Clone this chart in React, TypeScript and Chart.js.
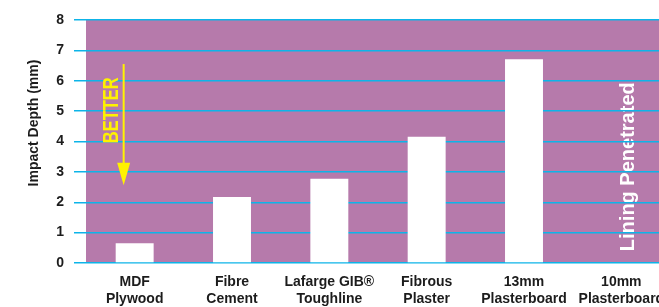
import React, { useEffect, useRef } from "react";
import { Chart, registerables } from "chart.js";

Chart.register(...registerables);

// ---- data ----
const categories: string[][] = [
  ["MDF", "Plywood"],
  ["Fibre", "Cement"],
  ["Lafarge GIB®", "Toughline"],
  ["Fibrous", "Plaster"],
  ["13mm", "Plasterboard"],
  ["10mm", "Plasterboard"],
];
const impactDepth: (number | null)[] = [0.65, 2.17, 2.77, 4.16, 6.71, null];
const yMin = 0;
const yMax = 8;
const yStep = 1;
const yTitle = "Impact Depth (mm)";
const betterLabel = "BETTER";
const penetratedLabel = "Lining Penetrated";

// ---- styles ----
const PURPLE = "#b67aab";
const CYAN = "#0db4e8";
const YELLOW = "#fff200";
const TEXT = "#1c1c1c";
const FONT = "'Liberation Sans', Arial, sans-serif";

const decorPlugin = {
  id: "decor",
  beforeDraw(chart: any) {
    const { ctx, chartArea, scales } = chart;
    ctx.save();
    ctx.fillStyle = PURPLE;
    ctx.fillRect(chartArea.left, chartArea.top, chartArea.right - chartArea.left, chartArea.bottom - chartArea.top);
    // "Lining Penetrated" label on the last category
    const x = scales.x.getPixelForValue(5) + 7;
    const y = scales.y.getPixelForValue(3.17);
    ctx.translate(x, y);
    ctx.rotate(-Math.PI / 2);
    ctx.fillStyle = "#ffffff";
    ctx.font = `bold 20px ${FONT}`;
    ctx.textAlign = "center";
    ctx.textBaseline = "middle";
    ctx.fillText(penetratedLabel, 0, 0);
    ctx.restore();
  },
  afterDatasetsDraw(chart: any) {
    const { ctx, scales } = chart;
    const xs = scales.x.getPixelForValue(0);
    const ys = scales.y;
    // arrow
    const ax = xs - 11;
    const yTop = ys.getPixelForValue(6.55);
    const yTip = ys.getPixelForValue(2.56);
    const yBase = ys.getPixelForValue(3.3);
    ctx.save();
    ctx.strokeStyle = YELLOW;
    ctx.fillStyle = YELLOW;
    ctx.lineWidth = 2;
    ctx.beginPath();
    ctx.moveTo(ax, yTop);
    ctx.lineTo(ax, yBase + 1);
    ctx.stroke();
    ctx.beginPath();
    ctx.moveTo(ax - 6.5, yBase);
    ctx.lineTo(ax + 6.5, yBase);
    ctx.lineTo(ax, yTip);
    ctx.closePath();
    ctx.fill();
    // BETTER text
    const tx = xs - 24;
    const ty = ys.getPixelForValue(5.03);
    ctx.translate(tx, ty);
    ctx.rotate(-Math.PI / 2);
    ctx.font = `bold 22px ${FONT}`;
    const w = ctx.measureText(betterLabel).width;
    ctx.scale(66 / w, 1);
    ctx.textAlign = "center";
    ctx.textBaseline = "middle";
    ctx.fillText(betterLabel, 0, 1);
    ctx.restore();
  },
  afterDraw(chart: any) {
    const { ctx } = chart;
    ctx.save();
    ctx.translate(34, 123);
    ctx.rotate(-Math.PI / 2);
    ctx.fillStyle = TEXT;
    ctx.font = `bold 14px ${FONT}`;
    ctx.textAlign = "center";
    ctx.textBaseline = "middle";
    ctx.fillText(yTitle, 0, 0);
    ctx.restore();
  },
};

export default function App() {
  const ref = useRef<HTMLCanvasElement | null>(null);
  useEffect(() => {
    if (!ref.current) return;
    const chart = new Chart(ref.current, {
      type: "bar",
      data: {
        labels: categories,
        datasets: [
          {
            data: impactDepth,
            backgroundColor: "#ffffff",
            borderWidth: 0,
            barPercentage: 0.39,
            categoryPercentage: 1,
          },
        ],
      },
      options: {
        responsive: false,
        animation: false,
        devicePixelRatio: 1,
        layout: { padding: { top: 20, left: 0, right: 0, bottom: 0 } },
        plugins: { legend: { display: false }, tooltip: { enabled: false } },
        scales: {
          x: {
            grid: { display: false, drawTicks: false },
            border: { display: false },
            ticks: {
              autoSkip: false,
              maxRotation: 0,
              minRotation: 0,
              padding: 11,
              color: TEXT,
              font: { family: FONT, size: 14, weight: "bold", lineHeight: 1.2 },
            },
            afterFit: (s: any) => {
              s.height = 44;
              s.paddingLeft = 0;
              s.paddingRight = 0;
            },
          },
          y: {
            min: yMin,
            max: yMax,
            ticks: {
              stepSize: yStep,
              padding: 10,
              color: TEXT,
              font: { family: FONT, size: 14, weight: "bold" },
            },
            grid: { color: CYAN, lineWidth: 1.5, tickLength: 12, drawTicks: true },
            border: { display: false },
            afterFit: (s: any) => {
              s.width = 86;
            },
          },
        },
      },
      plugins: [decorPlugin],
    });
    return () => chart.destroy();
  }, []);
  return (
    <div style={{ position: "absolute", left: 0, top: 0, width: 659, height: 307, overflow: "hidden", background: "#fff" }}>
      <canvas ref={ref} width={670} height={307} style={{ display: "block", width: 670, height: 307 }} />
    </div>
  );
}
